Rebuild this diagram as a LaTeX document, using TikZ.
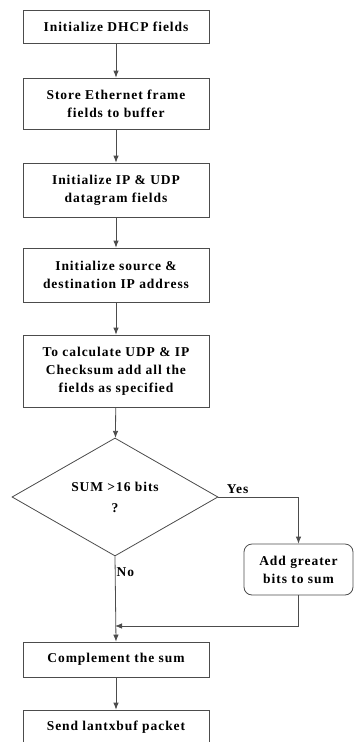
\documentclass[tikz,border=0pt]{standalone}
\usepackage{fontspec}
\setmainfont{Liberation Serif}[LetterSpace=7]
\usetikzlibrary{shapes.geometric,arrows.meta}
\begin{document}
\begin{tikzpicture}[x=1pt,y=-1pt,
  line/.style={draw=black!70, line width=0.8pt},
  flow/.style={line, -{Latex[length=7pt,width=5.5pt]}},
  txt/.style={font=\fontsize{13.5}{18}\selectfont\bfseries, align=center},
  stepbox/.style={line, txt, rectangle, minimum width=186pt, inner sep=0pt},
  sidebox/.style={line, txt, rectangle, rounded corners=8pt, minimum width=109pt, minimum height=51pt, inner sep=0pt},
  decision/.style={line, txt, font=\fontsize{13.5}{21}\selectfont\bfseries, diamond, minimum width=206pt, minimum height=108pt, inner sep=0pt}]
\useasboundingbox (0,0) rectangle (354,742);
\clip (0,0) rectangle (354,742);
\node[stepbox, minimum height=33pt] (init) at (116,26.5) {Initialize DHCP fields};
\node[stepbox, minimum height=51pt] (store) at (116,103.5) {Store Ethernet frame\\fields to buffer};
\node[stepbox, minimum height=54pt] (ipudp) at (116,190) {Initialize IP \& UDP\\datagram fields};
\node[stepbox, minimum height=54pt] (addr) at (116,275) {Initialize source \&\\destination IP address};
\node[stepbox, minimum height=72pt] (calc) at (116,371) {To calculate UDP \& IP\\Checksum add all the\\fields as specified};
\node[decision] (sum) at (115,497) {SUM >16 bits\\?};
\node[sidebox] (carry) at (298.5,569.5) {Add greater\\bits to sum};
\node[stepbox, minimum height=35pt] (compl) at (116,659.5) {Complement the sum};
\node[stepbox, minimum height=35pt] (send) at (116,727.5) {Send lantxbuf packet};
\coordinate (merge) at (115,626);
\draw[flow] (init) -- (store);
\draw[flow] (store) -- (ipudp);
\draw[flow] (ipudp) -- (addr);
\draw[flow] (addr) -- (calc);
\draw[flow] (calc) -- (sum);
\draw[flow] (sum.east) -| (carry.north) node[pos=0.12, above, txt] (yes) {Yes};
\draw[flow] (carry.south) |- (merge);
\draw[flow] (sum.south) -- (compl.north) node[pos=0.18, right, txt, inner sep=1pt] (no) {No};
\draw[flow] (compl) -- (send);
\end{tikzpicture}
\end{document}
